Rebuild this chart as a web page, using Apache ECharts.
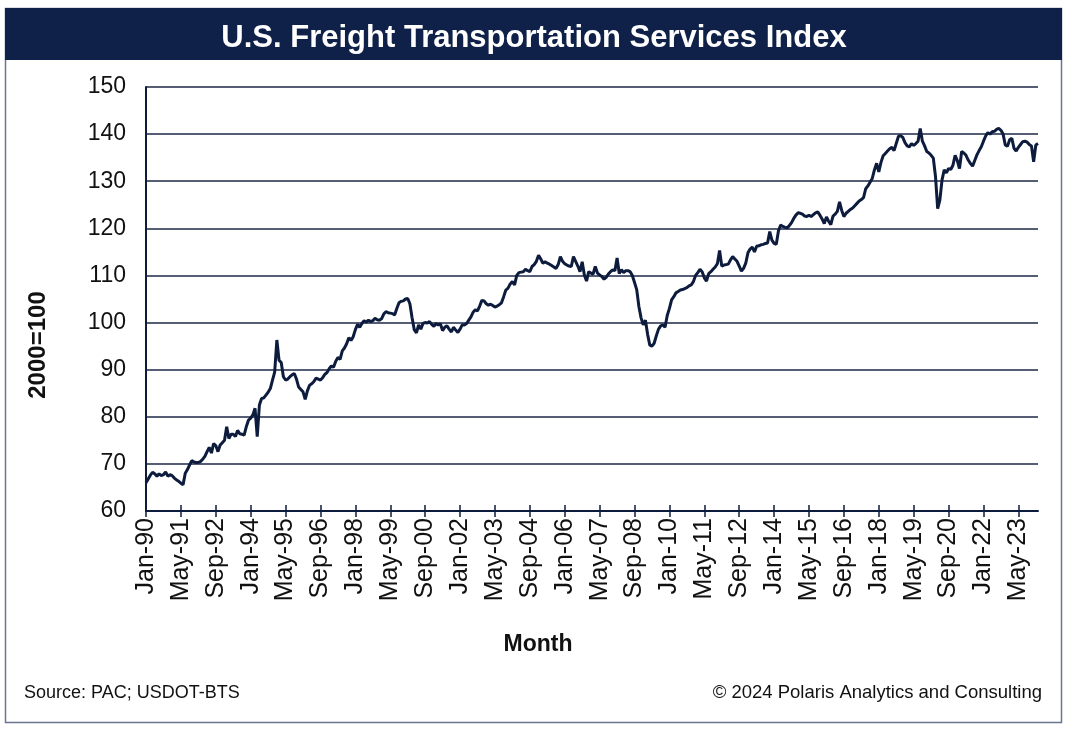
<!DOCTYPE html>
<html>
<head>
<meta charset="utf-8">
<script src="https://cdn.jsdelivr.net/npm/echarts@6/dist/echarts.min.js"></script>
<style>
html,body{margin:0;padding:0;background:#fff;}
#chart{width:1068px;height:733px;}
</style>
</head>
<body>
<div id="chart"></div>
<script>
// ---- data ----
const startYear = 1990;
const monthNames = ['Jan','Feb','Mar','Apr','May','Jun','Jul','Aug','Sep','Oct','Nov','Dec'];
const y1990 = [66.0,66.8,67.6,68.2,67.9,67.4,67.9,67.5,67.7,68.3,67.4,67.7];
const y1991 = [67.5,67.0,66.6,66.3,65.9,65.6,68.0,68.8,69.8,70.7,70.4,70.3];
const y1992 = [70.3,70.5,71.0,71.6,72.6,73.5,72.3,74.3,73.9,72.6,74.0,74.5];
const y1993 = [75.0,77.9,75.4,76.3,76.3,75.8,77.1,76.4,76.3,76.1,77.9,79.3];
const y1994 = [79.7,80.4,81.8,75.8,82.5,83.9,84.0,84.6,85.2,86.0,87.8,89.5];
const y1995 = [96.3,92.0,91.5,88.5,87.8,88.0,88.5,88.9,89.2,88.0,86.3,85.8];
const y1996 = [85.3,83.7,85.5,86.7,87.0,87.5,88.2,88.0,87.8,88.3,89.0,89.4];
const y1997 = [90.2,90.8,90.5,91.8,92.6,92.2,94.0,94.6,95.5,96.8,96.2,97.0];
const y1998 = [98.5,99.6,99.0,99.8,100.4,100.1,100.5,100.2,100.4,100.9,100.6,100.5];
const y1999 = [100.8,101.8,102.3,102.1,102.0,101.9,101.6,103.0,104.2,104.5,104.6,105.0];
const y2000 = [105.1,104.0,101.0,98.5,97.8,99.5,98.6,99.8,100.0,99.9,100.2,99.6];
const y2001 = [99.2,99.8,99.5,99.7,98.3,99.0,99.3,98.6,98.0,99.0,98.4,97.9];
const y2002 = [98.6,99.5,99.5,99.8,100.5,101.2,102.2,102.7,102.5,103.5,104.7,104.6];
const y2003 = [104.0,103.7,103.9,103.6,103.3,103.5,103.8,104.2,105.5,106.9,107.3,108.2];
const y2004 = [108.7,108.0,110.0,110.6,110.7,110.8,111.3,111.0,110.8,111.9,112.3,113.0];
const y2005 = [114.3,113.5,112.6,112.9,112.6,112.4,112.1,111.8,111.5,112.3,114.0,113.0];
const y2006 = [112.5,112.2,112.0,111.9,114.0,113.0,112.0,110.8,112.9,110.1,108.8,110.8];
const y2007 = [110.5,110.3,111.9,110.5,110.1,109.8,109.2,109.6,110.3,110.8,111.2,111.0];
const y2008 = [113.7,110.4,111.2,110.6,111.0,111.0,110.8,110.0,108.5,107.0,103.4,101.0];
const y2009 = [99.5,100.5,97.5,95.2,95.0,95.6,97.2,98.6,99.3,99.5,99.0,101.5];
const y2010 = [103.0,104.8,105.5,106.3,106.6,106.9,107.0,107.2,107.4,107.8,108.0,108.7];
const y2011 = [110.0,110.6,111.3,110.8,109.5,108.8,110.4,110.8,111.3,111.8,112.5,115.3];
const y2012 = [112.0,112.2,112.3,112.4,113.3,114.0,113.5,113.0,112.0,110.9,111.5,112.6];
const y2013 = [114.8,115.6,116.0,115.0,116.2,116.3,116.5,116.6,116.8,116.9,119.3,117.5];
const y2014 = [116.8,116.6,119.5,120.7,120.4,120.2,120.1,120.6,121.2,122.1,122.8,123.3];
const y2015 = [123.2,123.0,122.6,122.5,122.8,122.5,122.9,123.3,123.5,122.8,122.0,121.0];
const y2016 = [122.4,121.5,120.8,122.6,123.0,123.6,125.6,123.8,122.5,123.2,123.6,124.0];
const y2017 = [124.3,124.8,125.3,125.8,126.1,126.5,128.4,129.0,129.8,130.6,132.4,133.8];
const y2018 = [132.0,134.0,135.4,135.9,136.4,136.9,137.2,136.5,138.0,139.5,139.7,139.3];
const y2019 = [138.2,137.5,137.3,138.0,137.6,138.0,138.5,141.2,138.5,137.5,136.3,136.0];
const y2020 = [135.5,134.9,131.0,124.2,126.0,130.3,132.4,131.8,132.7,132.5,133.4,135.5];
const y2021 = [134.4,132.7,136.3,136.0,135.5,134.5,133.8,133.2,134.4,135.6,136.5,137.3];
const y2022 = [138.5,139.6,140.3,140.0,140.5,140.6,141.0,141.2,140.8,140.0,137.7,137.4];
const y2023 = [138.8,139.1,137.0,136.4,137.2,137.8,138.4,138.5,138.3,137.8,137.5,134.1];
const y2024 = [137.7,138.0];

const yearly = [y1990,y1991,y1992,y1993,y1994,y1995,y1996,y1997,y1998,y1999,
  y2000,y2001,y2002,y2003,y2004,y2005,y2006,y2007,y2008,y2009,
  y2010,y2011,y2012,y2013,y2014,y2015,y2016,y2017,y2018,y2019,
  y2020,y2021,y2022,y2023,y2024];

const values = [];
const categories = [];
yearly.forEach((arr, k) => {
  const yy = String((startYear + k) % 100).padStart(2, '0');
  arr.forEach((v, m) => { values.push(v); categories.push(monthNames[m] + '-' + yy); });
});

const yTicks = {min: 60, max: 150, interval: 10};

// ---- chart ----
const chart = echarts.init(document.getElementById('chart'), null, {renderer: 'canvas'});
const navy = '#0f2148';
const dark = '#0d1b3d';
const txt = '#111111';
const font = '"Liberation Sans", Arial, sans-serif';

chart.setOption({
  backgroundColor: '#ffffff',
  animation: false,
  graphic: [
    {type: 'rect', shape: {x: 5.5, y: 8.5, width: 1056, height: 714},
     style: {fill: '#ffffff', stroke: '#6b7590', lineWidth: 1.5}, z: -10},
    {type: 'rect', shape: {x: 5, y: 8, width: 1057, height: 52},
     style: {fill: navy}, z: -9},
    {type: 'text', x: 24, y: 693,
     style: {text: 'Source: PAC; USDOT-BTS', font: '18px ' + font, fill: txt, textVerticalAlign: 'middle'}},
    {type: 'text', x: 1042, y: 693,
     style: {text: '\u00A9 2024 Polaris Analytics and Consulting', font: '18.5px ' + font, fill: txt,
       textAlign: 'right', textVerticalAlign: 'middle'}},
    {type: 'text', x: 538, y: 645,
     style: {text: 'Month', font: 'bold 23px ' + font, fill: txt, textAlign: 'center', textVerticalAlign: 'middle'}},
    {type: 'text', x: 38, y: 345, rotation: Math.PI / 2,
     style: {text: '2000=100', font: 'bold 24px ' + font, fill: txt, textAlign: 'center', textVerticalAlign: 'middle'}}
  ],
  title: {
    text: 'U.S. Freight Transportation Services Index',
    left: 'center', top: 18,
    textStyle: {color: '#ffffff', fontSize: 31, fontWeight: 'bold', fontFamily: font}
  },
  grid: {left: 146, top: 87, width: 892, height: 424, containLabel: false},
  xAxis: [
    {
      type: 'category', data: categories, boundaryGap: false,
      axisLine: {lineStyle: {color: dark, width: 2}},
      axisTick: {show: true, interval: 15, length: 6, lineStyle: {color: dark, width: 1.5}},
      axisLabel: {interval: 15, rotate: 90, fontSize: 25, color: txt, fontFamily: font, margin: 7},
      splitLine: {show: false}
    },
    {
      type: 'category', data: categories, boundaryGap: false, position: 'bottom',
      axisLine: {show: false},
      axisTick: {show: true, inside: true, interval: 15, length: 6, lineStyle: {color: dark, width: 1.5}},
      axisLabel: {show: false},
      splitLine: {show: false}
    }
  ],
  yAxis: {
    type: 'value', min: yTicks.min, max: yTicks.max, interval: yTicks.interval,
    axisLine: {show: true, lineStyle: {color: dark, width: 2}},
    axisTick: {show: false},
    axisLabel: {fontSize: 23, color: txt, fontFamily: font, margin: 20},
    splitLine: {show: true, lineStyle: {color: '#1e2948', width: 1.5}}
  },
  series: [{
    type: 'line', data: values, xAxisIndex: 0,
    showSymbol: false, symbol: 'none',
    lineStyle: {color: dark, width: 3},
    z: 5
  }]
});
</script>
</body>
</html>
